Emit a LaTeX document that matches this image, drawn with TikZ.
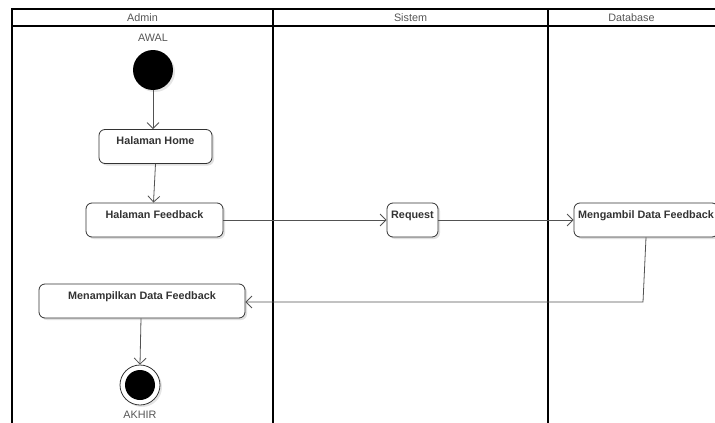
\documentclass[tikz,border=0pt]{standalone}
\usepackage{fontspec}
\setmainfont{Liberation Sans}
\usetikzlibrary{arrows.meta,shadows}
\definecolor{ink}{HTML}{333333}
\definecolor{soft}{HTML}{555555}
\begin{document}
\begin{tikzpicture}[x=1pt,y=-1pt,
  lane/.style={line width=1.4pt,black},
  head/.style={font=\fontsize{10.8}{12}\selectfont,text=soft},
  act/.style={draw=ink,line width=0.8pt,rounded corners=6pt,fill=white,
    minimum height=34pt,inner xsep=2pt,inner ysep=2pt,
    text height=13pt,text depth=17pt,text=ink,
    font=\fontsize{10.8}{13}\bfseries\selectfont,
    drop shadow={shadow xshift=2pt,shadow yshift=-2pt,fill=black!12,opacity=1}},
  tag/.style={font=\fontsize{10.8}{13}\selectfont,text=soft},
  flow/.style={draw=ink!85,line width=0.8pt,-{Straight Barb[length=6pt,width=12pt,line width=0.8pt]}}]
\useasboundingbox (0,0) rectangle (715,423);
% swimlane frame
\draw[lane] (12,423) -- (12,9) -- (715,9);
\draw[lane] (12,26) -- (715,26);
\draw[lane] (273,9) -- (273,423);
\draw[lane] (548,9) -- (548,423);
\node[head] (hAdmin) at (142.5,17.5) {Admin};
\node[head] (hSistem) at (410.5,17.5) {Sistem};
\node[head] (hDb) at (631.5,17.5) {Database};
% start and end states
\node[tag] (awal) at (153,38) {AWAL};
\node[circle,fill=black,minimum size=40pt,inner sep=0pt,
  drop shadow={shadow xshift=2pt,shadow yshift=-2pt,fill=black!10,opacity=1}] (start) at (153,70) {};
\node[circle,draw=ink,line width=0.8pt,fill=white,minimum size=40pt,inner sep=0pt,
  drop shadow={shadow xshift=2pt,shadow yshift=-2pt,fill=black!10,opacity=1},
  path picture={\fill[black] (path picture bounding box.center) circle (15pt);}] (stop) at (140,385) {};
\node[tag] (akhir) at (140,415) {AKHIR};
% activities
\node[act,minimum width=113pt] (home) at (155.5,146.5) {Halaman Home};
\node[act,minimum width=137pt] (feedback) at (154.5,220) {Halaman Feedback};
\node[act,minimum width=51pt] (request) at (412.5,220) {Request};
\node[act,minimum width=144pt] (getdata) at (646,220) {Mengambil Data Feedback};
\node[act,minimum width=206pt] (show) at (142,301) {Menampilkan Data Feedback};
% control flow
\draw[flow] (start) -- (start |- home.north);
\draw[flow] (home.south) -- ([xshift=-1pt]feedback.north);
\draw[flow] (feedback.east) -- (request.west);
\draw[flow] (request.east) -- (getdata.west);
\coordinate (turn) at (643,302);
\draw[flow] (getdata.south) -- (turn) -- (show.east |- turn);
\draw[flow] ([xshift=-1pt]show.south) -- (stop.north);
\end{tikzpicture}
\end{document}
